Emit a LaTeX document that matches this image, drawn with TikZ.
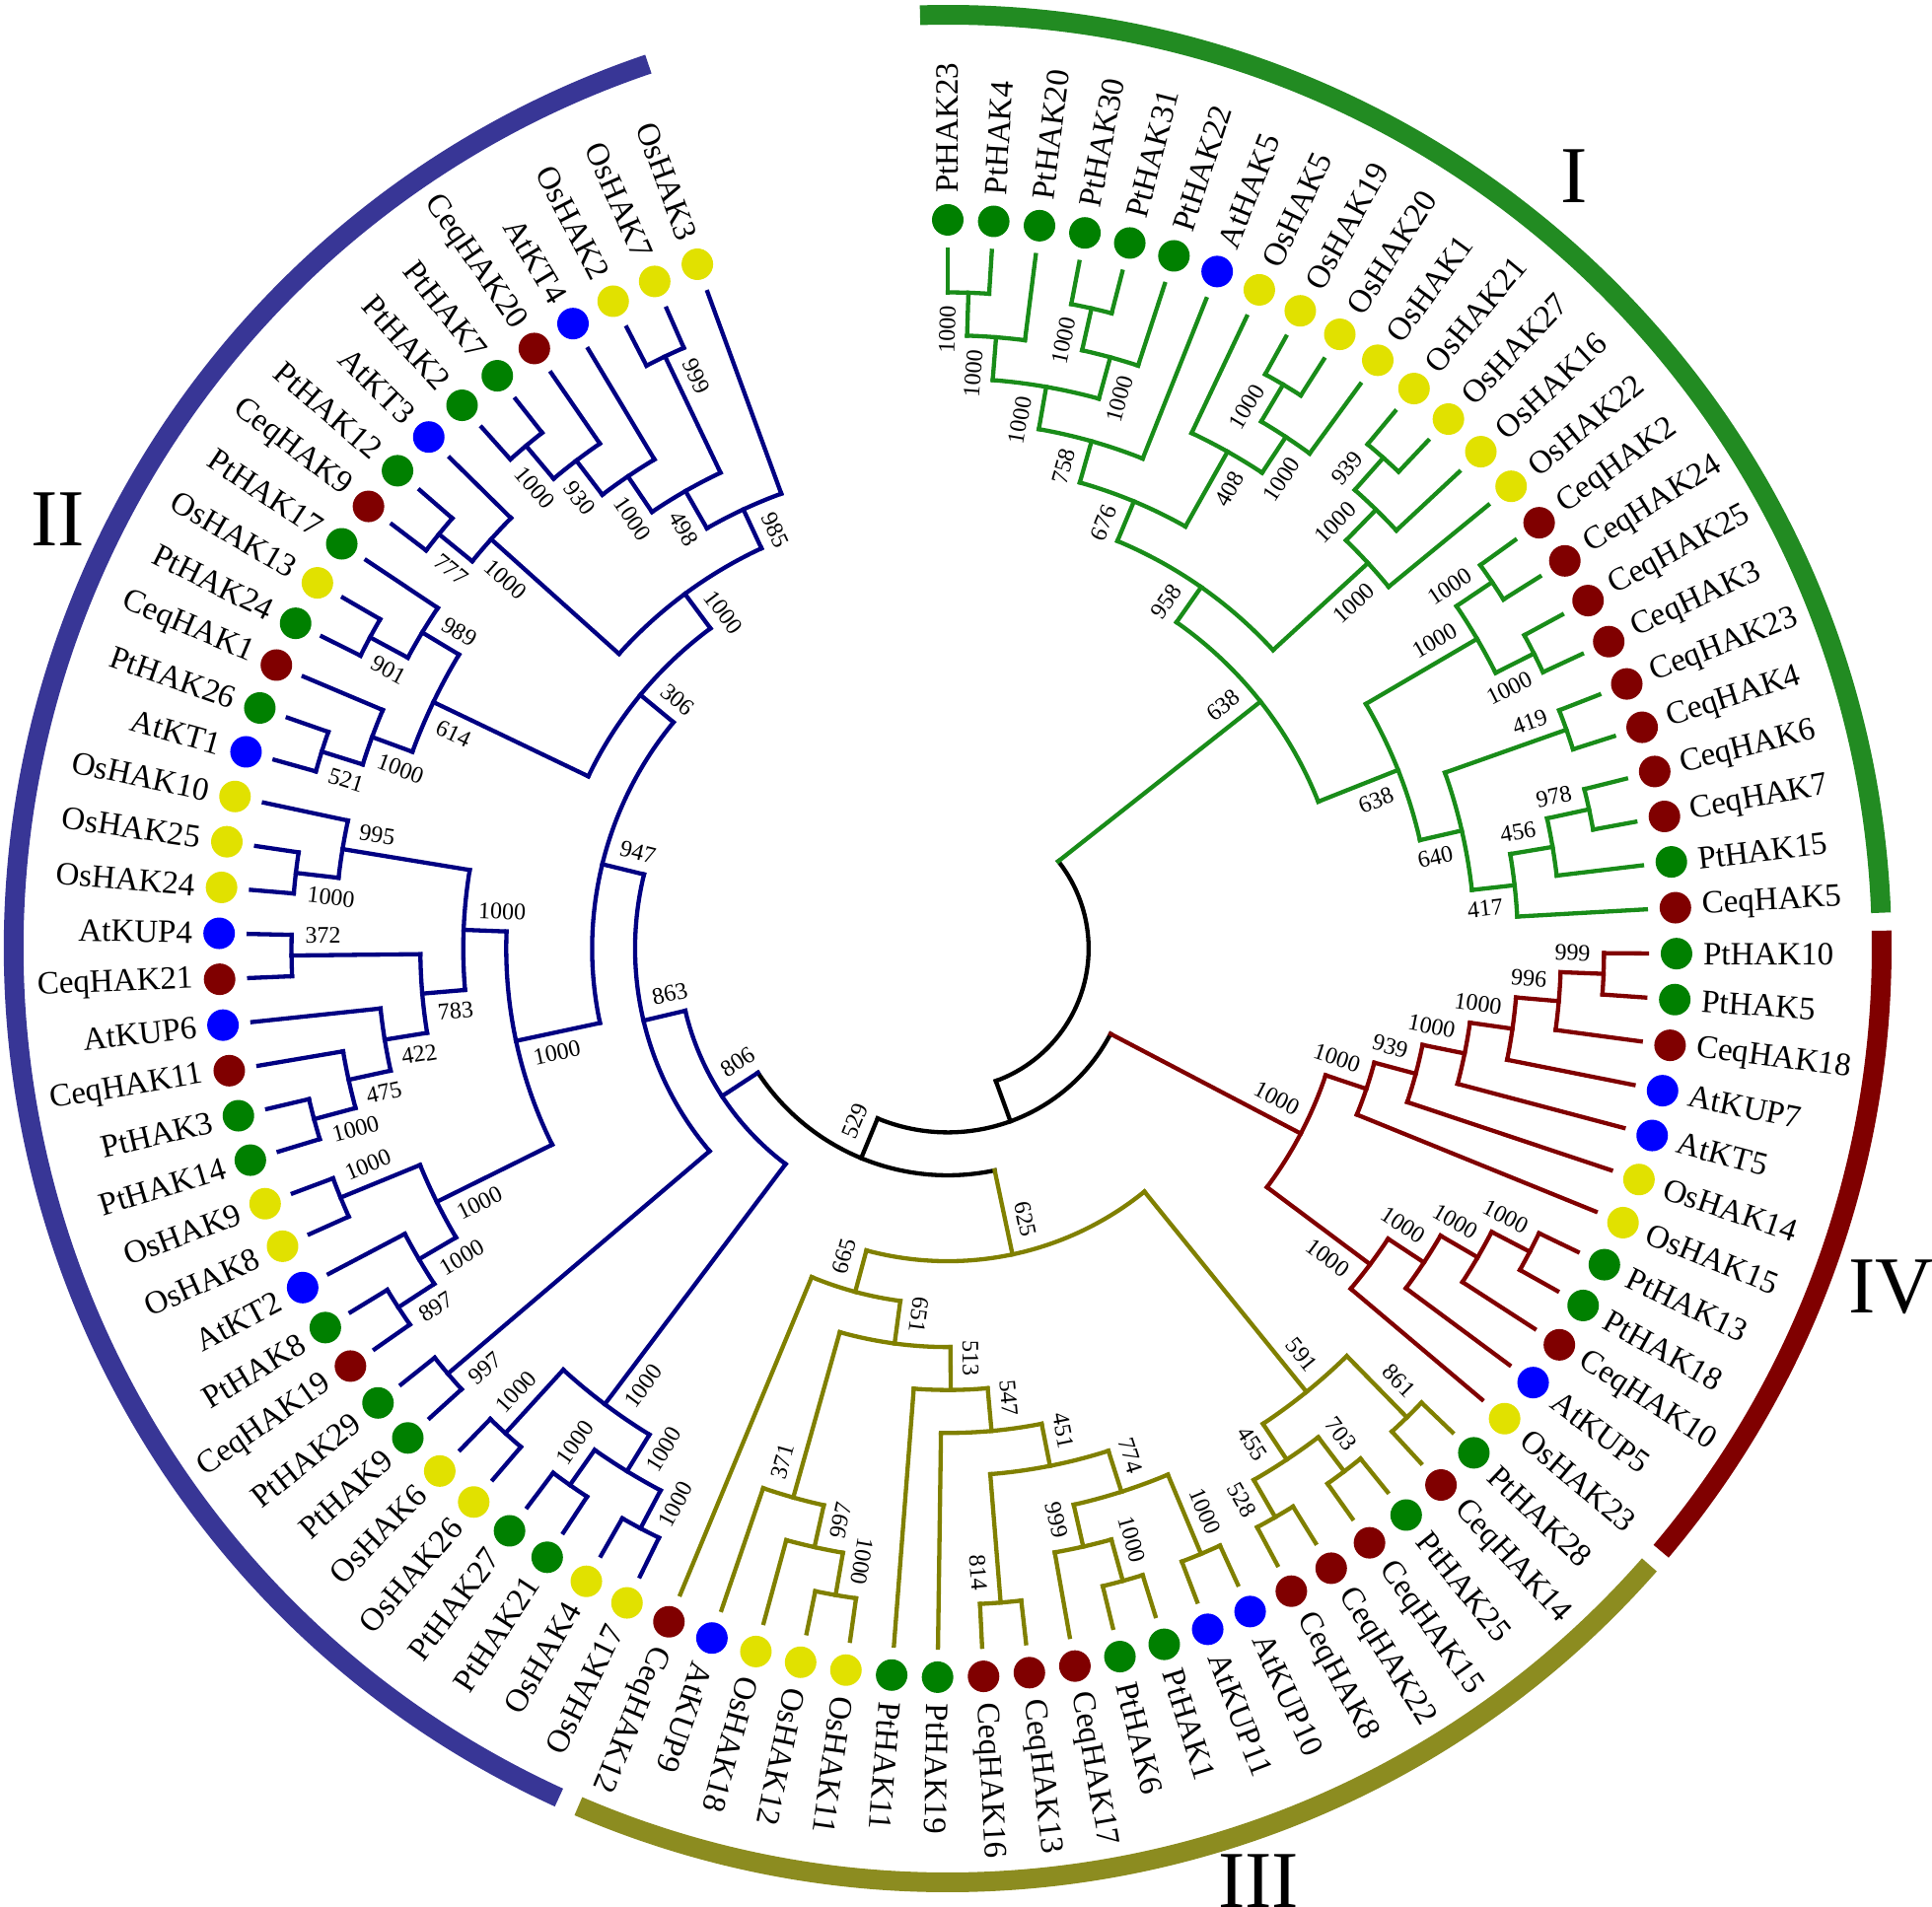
\documentclass[tikz,border=0pt]{standalone}
\usepackage{fontspec}
\setmainfont{Liberation Serif}
\usetikzlibrary{calc}
\definecolor{cI}{RGB}{25,140,25}
\definecolor{cII}{RGB}{0,0,130}
\definecolor{cIII}{RGB}{128,128,0}
\definecolor{cIV}{RGB}{128,0,0}
\definecolor{aI}{RGB}{34,139,34}
\definecolor{aII}{RGB}{56,54,150}
\definecolor{aIII}{RGB}{140,140,32}
\definecolor{aIV}{RGB}{128,0,0}
\definecolor{dG}{RGB}{0,128,0}
\definecolor{dR}{RGB}{128,0,0}
\definecolor{dB}{RGB}{0,0,255}
\definecolor{dY}{RGB}{225,225,0}
\tikzset{
  branch/.style={line width=4.3pt, line cap=rect},
  leafdot/.style={circle, minimum size=32pt, inner sep=0pt, draw=none},
  leaflab/.style={font=\fontsize{33}{36}\selectfont, inner sep=0pt},
  bslab/.style={font=\fontsize{24}{26}\selectfont, inner sep=0pt},
  cladearc/.style={line width=20pt},
  cladelab/.style={font=\fontsize{82}{82}\selectfont, inner sep=0pt}
}
\newcommand\Ang[1]{\csname tA#1\endcsname}
\newcommand\Rad[1]{\csname tR#1\endcsname}
\newcommand\Col[1]{\csname tC#1\endcsname}
\newcommand\Bs[1]{\csname tB#1\endcsname}
\newcommand\leaf[4]{%
  \pgfmathsetmacro\la{90-3.616*#1}%
  \expandafter\xdef\csname tAL#1\endcsname{\la}%
  \expandafter\xdef\csname tRL#1\endcsname{709}%
  \expandafter\xdef\csname tCL#1\endcsname{#4}%
  \expandafter\gdef\csname tBL#1\endcsname{}%
  \coordinate (L#1) at (\la:709);
  \node[leafdot, fill=#3] (D#1) at (\la:739) {};
  \ifnum#1<57
    \node[leaflab, rotate=\la, anchor=west] (T#1) at (\la:766) {#2};
  \else
    \pgfmathsetmacro\lr{\la+180}%
    \node[leaflab, rotate=\lr, anchor=east] (T#1) at (\la:766) {#2};
  \fi
}
\newcommand\bslabel[2]{%
  \edef\bsT{\Bs{#1}}%
  \ifx\bsT\empty\else
    \edef\ba{\Ang{#1}}%
    \pgfmathsetmacro\br{\Rad{#1}-14}%
    \pgfmathsetmacro\bo{\ba+90*(#2)}%
    \ifdim\ba pt>-100pt
      \pgfmathsetmacro\brot{\ba}%
      \ifnum#2=1 \def\banc{south east}\else\def\banc{north east}\fi
    \else
      \pgfmathsetmacro\brot{\ba+180}%
      \ifnum#2=1 \def\banc{north west}\else\def\banc{south west}\fi
    \fi
    \node[bslab, rotate=\brot, anchor=\banc] (b#1) at ($(\ba:\br)+(\bo:12)$) {\bsT};
  \fi
}
\newcommand\inode[6]{%
  \edef\aA{\Ang{#2}}\edef\aB{\Ang{#3}}%
  \edef\cA{\Col{#2}}\edef\cB{\Col{#3}}%
  \pgfmathsetmacro\na{(\aA+\aB)/2}%
  \pgfmathsetmacro\nr{709-43.55*#4}%
  \expandafter\xdef\csname tA#1\endcsname{\na}%
  \expandafter\xdef\csname tR#1\endcsname{\nr}%
  \expandafter\xdef\csname tC#1\endcsname{#5}%
  \expandafter\gdef\csname tB#1\endcsname{#6}%
  \coordinate (#1) at (\na:\nr);
  \coordinate (#2e) at (\aA:\nr);
  \coordinate (#3e) at (\aB:\nr);
  \draw[branch, draw=#5] (#2e) arc[start angle=\aA, end angle=\aB, radius=\nr];
  \draw[branch, draw=\cA] (#2e) -- (#2);
  \draw[branch, draw=\cB] (#3e) -- (#3);
  \bslabel{#2}{1}\bslabel{#3}{-1}%
}
\begin{document}
\begin{tikzpicture}[x=1pt,y=1pt]
\useasboundingbox (-961,-972) rectangle (998,962);
% ---- leaves ----
\leaf{0}{PtHAK23}{dG}{cI}
\leaf{1}{PtHAK4}{dG}{cI}
\leaf{2}{PtHAK20}{dG}{cI}
\leaf{3}{PtHAK30}{dG}{cI}
\leaf{4}{PtHAK31}{dG}{cI}
\leaf{5}{PtHAK22}{dG}{cI}
\leaf{6}{AtHAK5}{dB}{cI}
\leaf{7}{OsHAK5}{dY}{cI}
\leaf{8}{OsHAK19}{dY}{cI}
\leaf{9}{OsHAK20}{dY}{cI}
\leaf{10}{OsHAK1}{dY}{cI}
\leaf{11}{OsHAK21}{dY}{cI}
\leaf{12}{OsHAK27}{dY}{cI}
\leaf{13}{OsHAK16}{dY}{cI}
\leaf{14}{OsHAK22}{dY}{cI}
\leaf{15}{CeqHAK2}{dR}{cI}
\leaf{16}{CeqHAK24}{dR}{cI}
\leaf{17}{CeqHAK25}{dR}{cI}
\leaf{18}{CeqHAK3}{dR}{cI}
\leaf{19}{CeqHAK23}{dR}{cI}
\leaf{20}{CeqHAK4}{dR}{cI}
\leaf{21}{CeqHAK6}{dR}{cI}
\leaf{22}{CeqHAK7}{dR}{cI}
\leaf{23}{PtHAK15}{dG}{cI}
\leaf{24}{CeqHAK5}{dR}{cI}
\leaf{25}{PtHAK10}{dG}{cIV}
\leaf{26}{PtHAK5}{dG}{cIV}
\leaf{27}{CeqHAK18}{dR}{cIV}
\leaf{28}{AtKUP7}{dB}{cIV}
\leaf{29}{AtKT5}{dB}{cIV}
\leaf{30}{OsHAK14}{dY}{cIV}
\leaf{31}{OsHAK15}{dY}{cIV}
\leaf{32}{PtHAK13}{dG}{cIV}
\leaf{33}{PtHAK18}{dG}{cIV}
\leaf{34}{CeqHAK10}{dR}{cIV}
\leaf{35}{AtKUP5}{dB}{cIV}
\leaf{36}{OsHAK23}{dY}{cIV}
\leaf{37}{PtHAK28}{dG}{cIII}
\leaf{38}{CeqHAK14}{dR}{cIII}
\leaf{39}{PtHAK25}{dG}{cIII}
\leaf{40}{CeqHAK15}{dR}{cIII}
\leaf{41}{CeqHAK22}{dR}{cIII}
\leaf{42}{CeqHAK8}{dR}{cIII}
\leaf{43}{AtKUP10}{dB}{cIII}
\leaf{44}{AtKUP11}{dB}{cIII}
\leaf{45}{PtHAK1}{dG}{cIII}
\leaf{46}{PtHAK6}{dG}{cIII}
\leaf{47}{CeqHAK17}{dR}{cIII}
\leaf{48}{CeqHAK13}{dR}{cIII}
\leaf{49}{CeqHAK16}{dR}{cIII}
\leaf{50}{PtHAK19}{dG}{cIII}
\leaf{51}{PtHAK11}{dG}{cIII}
\leaf{52}{OsHAK11}{dY}{cIII}
\leaf{53}{OsHAK12}{dY}{cIII}
\leaf{54}{OsHAK18}{dY}{cIII}
\leaf{55}{AtKUP9}{dB}{cIII}
\leaf{56}{CeqHAK12}{dR}{cIII}
\leaf{57}{OsHAK17}{dY}{cII}
\leaf{58}{OsHAK4}{dY}{cII}
\leaf{59}{PtHAK21}{dG}{cII}
\leaf{60}{PtHAK27}{dG}{cII}
\leaf{61}{OsHAK26}{dY}{cII}
\leaf{62}{OsHAK6}{dY}{cII}
\leaf{63}{PtHAK9}{dG}{cII}
\leaf{64}{PtHAK29}{dG}{cII}
\leaf{65}{CeqHAK19}{dR}{cII}
\leaf{66}{PtHAK8}{dG}{cII}
\leaf{67}{AtKT2}{dB}{cII}
\leaf{68}{OsHAK8}{dY}{cII}
\leaf{69}{OsHAK9}{dY}{cII}
\leaf{70}{PtHAK14}{dG}{cII}
\leaf{71}{PtHAK3}{dG}{cII}
\leaf{72}{CeqHAK11}{dR}{cII}
\leaf{73}{AtKUP6}{dB}{cII}
\leaf{74}{CeqHAK21}{dR}{cII}
\leaf{75}{AtKUP4}{dB}{cII}
\leaf{76}{OsHAK24}{dY}{cII}
\leaf{77}{OsHAK25}{dY}{cII}
\leaf{78}{OsHAK10}{dY}{cII}
\leaf{79}{AtKT1}{dB}{cII}
\leaf{80}{PtHAK26}{dG}{cII}
\leaf{81}{CeqHAK1}{dR}{cII}
\leaf{82}{PtHAK24}{dG}{cII}
\leaf{83}{OsHAK13}{dY}{cII}
\leaf{84}{PtHAK17}{dG}{cII}
\leaf{85}{CeqHAK9}{dR}{cII}
\leaf{86}{PtHAK12}{dG}{cII}
\leaf{87}{AtKT3}{dB}{cII}
\leaf{88}{PtHAK2}{dG}{cII}
\leaf{89}{PtHAK7}{dG}{cII}
\leaf{90}{CeqHAK20}{dR}{cII}
\leaf{91}{AtKT4}{dB}{cII}
\leaf{92}{OsHAK2}{dY}{cII}
\leaf{93}{OsHAK7}{dY}{cII}
\leaf{94}{OsHAK3}{dY}{cII}
% ---- clade I ----
\inode{A1}{L0}{L1}{1}{cI}{1000}
\inode{A2}{A1}{L2}{2}{cI}{1000}
\inode{B1}{L3}{L4}{1}{cI}{1000}
\inode{B2}{B1}{L5}{2}{cI}{1000}
\inode{AB}{A2}{B2}{3}{cI}{1000}
\inode{C}{AB}{L6}{4}{cI}{758}
\inode{E2}{L8}{L9}{1}{cI}{1000}
\inode{E3}{E2}{L10}{2}{cI}{1000}
\inode{E7}{L7}{E3}{3}{cI}{408}
\inode{D}{C}{E7}{5}{cI}{676}
\inode{E4}{L11}{L12}{1}{cI}{939}
\inode{E5}{E4}{L13}{2}{cI}{1000}
\inode{E6}{E5}{L14}{3}{cI}{1000}
\inode{LL}{D}{E6}{6}{cI}{958}
\inode{K1}{L15}{L16}{1}{cI}{1000}
\inode{K2}{L17}{L18}{1}{cI}{1000}
\inode{K}{K1}{K2}{2}{cI}{1000}
\inode{H1}{L19}{L20}{1}{cI}{419}
\inode{G1}{L21}{L22}{1}{cI}{978}
\inode{G2}{G1}{L23}{2}{cI}{456}
\inode{G3}{G2}{L24}{3}{cI}{417}
\inode{G4}{H1}{G3}{4}{cI}{640}
\inode{F1}{K}{G4}{5}{cI}{638}
\inode{CI}{LL}{F1}{7}{cI}{638}
% ---- clade IV ----
\inode{M1}{L25}{L26}{1}{cIV}{999}
\inode{M2}{M1}{L27}{2}{cIV}{996}
\inode{M3}{M2}{L28}{3}{cIV}{1000}
\inode{M4}{M3}{L29}{4}{cIV}{1000}
\inode{M5}{M4}{L30}{5}{cIV}{939}
\inode{M6}{M5}{L31}{6}{cIV}{1000}
\inode{P1}{L32}{L33}{1}{cIV}{1000}
\inode{P2}{P1}{L34}{2}{cIV}{1000}
\inode{P3}{P2}{L35}{3}{cIV}{1000}
\inode{P4}{P3}{L36}{4}{cIV}{1000}
\inode{CIV}{M6}{P4}{7}{cIV}{1000}
% ---- clade III ----
\inode{V}{L37}{L38}{1}{cIII}{861}
\inode{W1}{L39}{L40}{1}{cIII}{703}
\inode{W2}{L41}{L42}{1}{cIII}{528}
\inode{W3}{W1}{W2}{2}{cIII}{455}
\inode{T}{V}{W3}{3}{cIII}{591}
\inode{Z1}{L43}{L44}{1}{cIII}{1000}
\inode{S1}{L45}{L46}{1}{cIII}{1000}
\inode{S2}{S1}{L47}{2}{cIII}{999}
\inode{S3}{Z1}{S2}{3}{cIII}{774}
\inode{S5}{L48}{L49}{1}{cIII}{814}
\inode{S4}{S3}{S5}{4}{cIII}{451}
\inode{S6}{S4}{L50}{5}{cIII}{547}
\inode{S7}{S6}{L51}{6}{cIII}{513}
\inode{Q1}{L52}{L53}{1}{cIII}{1000}
\inode{Q2}{Q1}{L54}{2}{cIII}{997}
\inode{Q3}{Q2}{L55}{3}{cIII}{371}
\inode{S8}{S7}{Q3}{7}{cIII}{651}
\inode{S9}{S8}{L56}{8}{cIII}{665}
\inode{CIII}{T}{S9}{9}{cIII}{625}
% ---- clade II ----
\inode{R0}{L57}{L58}{1}{cII}{1000}
\inode{R1}{L59}{L60}{1}{cII}{1000}
\inode{R2}{R0}{R1}{2}{cII}{1000}
\inode{R4}{L61}{L62}{1}{cII}{1000}
\inode{R3}{R2}{R4}{3}{cII}{1000}
\inode{R5}{L63}{L64}{1}{cII}{997}
\inode{N14}{L65}{L66}{1}{cII}{897}
\inode{N15}{N14}{L67}{2}{cII}{1000}
\inode{N13}{L68}{L69}{1}{cII}{1000}
\inode{N12}{N15}{N13}{3}{cII}{1000}
\inode{N2}{L70}{L71}{1}{cII}{1000}
\inode{N3}{N2}{L72}{2}{cII}{475}
\inode{N4}{N3}{L73}{3}{cII}{422}
\inode{N1}{L74}{L75}{1}{cII}{372}
\inode{N5}{N4}{N1}{4}{cII}{783}
\inode{N8}{L76}{L77}{1}{cII}{1000}
\inode{N7}{N8}{L78}{2}{cII}{995}
\inode{N6}{N5}{N7}{5}{cII}{1000}
\inode{N9}{N12}{N6}{6}{cII}{1000}
\inode{O14}{L79}{L80}{1}{cII}{521}
\inode{O15}{O14}{L81}{2}{cII}{1000}
\inode{O11}{L82}{L83}{1}{cII}{901}
\inode{O12}{O11}{L84}{2}{cII}{989}
\inode{O13}{O15}{O12}{3}{cII}{614}
\inode{O9}{L85}{L86}{1}{cII}{777}
\inode{O10}{O9}{L87}{2}{cII}{1000}
\inode{O1}{L88}{L89}{1}{cII}{1000}
\inode{O2}{O1}{L90}{2}{cII}{930}
\inode{O3}{O2}{L91}{3}{cII}{1000}
\inode{O4}{L92}{L93}{1}{cII}{999}
\inode{O5}{O3}{O4}{4}{cII}{498}
\inode{O6}{O5}{L94}{5}{cII}{985}
\inode{O7}{O10}{O6}{6}{cII}{1000}
\inode{O16}{O13}{O7}{7}{cII}{306}
\inode{N11}{N9}{O16}{8}{cII}{947}
\inode{N16}{R5}{N11}{9}{cII}{863}
\inode{CII}{R3}{N16}{10}{cII}{806}
% ---- backbone ----
\inode{Y}{CIII}{CII}{11}{black}{529}
\inode{X}{CIV}{Y}{12}{black}{}
\inode{ROOT}{CI}{X}{13}{black}{}
% ---- clade arcs ----
\draw[cladearc, draw=aI] (91.7:947) arc[start angle=91.7, end angle=2.2, radius=947];
\draw[cladearc, draw=aIV] (1.1:947) arc[start angle=1.1, end angle=-40.2, radius=947];
\draw[cladearc, draw=aIII] (-41.3:947) arc[start angle=-41.3, end angle=-113.3, radius=947];
\draw[cladearc, draw=aII] (-114.6:947) arc[start angle=-114.6, end angle=-251.3, radius=947];
\node[cladelab] (labI) at (635,783) {I};
\node[cladelab] (labII) at (-902,435) {II};
\node[cladelab] (labIII) at (315,-946) {III};
\node[cladelab] (labIV) at (956.5,-343) {IV};
\end{tikzpicture}
\end{document}
